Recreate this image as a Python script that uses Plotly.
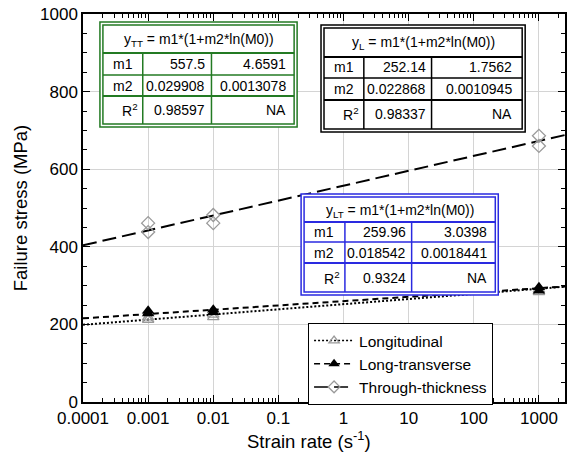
import numpy as np
import plotly.graph_objects as go

# Measured failure stress at three strain rates (two specimens per rate)
rate = [0.001, 0.001, 0.01, 0.01, 1000, 1000]
stress_L = [212, 218, 219, 225, 283, 290]
stress_LT = [228, 235, 231, 238, 287, 296]
stress_TT = [438, 461, 461, 482, 660, 686]

# Fit y = m1*(1+m2*ln(M0)) : [value, standard error]
fit_L = {"m1": [252.14, 1.7562], "m2": [0.022868, 0.0010945], "R2": [0.98337, "NA"]}
fit_LT = {"m1": [259.96, 3.0398], "m2": [0.018542, 0.0018441], "R2": [0.9324, "NA"]}
fit_TT = {"m1": [557.5, 4.6591], "m2": [0.029908, 0.0013078], "R2": [0.98597, "NA"]}

series_names = ["Longitudinal", "Long-transverse", "Through-thickness"]
x_tickvals = [1e-4, 1e-3, 1e-2, 1e-1, 1, 10, 100, 1000]
x_ticktext = ["0.0001", "0.001", "0.01", "0.1", "1", "10", "100", "1000"]

FONT = "Liberation Sans, Arial, sans-serif"
W, H = 568, 468
L_PX, R_PX, T_PX, B_PX = 83, 567, 14, 402
X_RANGE = [-4, 3.4]


def px(xp):
    return (xp - L_PX) / (R_PX - L_PX)


def py(yp):
    return (B_PX - yp) / (B_PX - T_PX)


def fit_curve(fit):
    xs = np.array([10 ** X_RANGE[0], 10 ** X_RANGE[1]])
    m1, m2 = fit["m1"][0], fit["m2"][0]
    return xs, m1 * (1 + m2 * np.log(xs))


fig = go.Figure()

line_styles = [
    dict(color="black", width=2, dash="2px,2px"),
    dict(color="black", width=2, dash="6px,4px"),
    dict(color="black", width=2, dash="14px,6px"),
]
markers = [
    dict(symbol="triangle-up-open", size=10, color="#9a9a9a", line=dict(width=1.3)),
    dict(symbol="triangle-up", size=11, color="black"),
    dict(symbol="diamond-open", size=10, color="#9a9a9a", line=dict(width=1.3)),
]
fits = [fit_L, fit_LT, fit_TT]
stresses = [stress_L, stress_LT, stress_TT]

# fit lines
for fit, ls in zip(fits, line_styles):
    xs, ys = fit_curve(fit)
    fig.add_trace(go.Scatter(x=xs, y=ys, mode="lines", line=ls,
                             showlegend=False, hoverinfo="skip"))
# measured points
for s, mk in zip(stresses, markers):
    fig.add_trace(go.Scatter(x=rate, y=s, mode="markers", marker=mk,
                             showlegend=False))
# legend entries (line + symbol)
for name, ls, mk in zip(series_names, line_styles, markers):
    lmk = dict(mk)
    lmk["size"] = mk["size"] - 1
    fig.add_trace(go.Scatter(x=[None], y=[None], mode="lines+markers",
                             line=dict(ls, width=1.5), marker=lmk, name=name))

shapes = []
annotations = []


def note(x, y, text, xanchor="center", size=14):
    annotations.append(dict(xref="paper", yref="paper", x=px(x), y=py(y),
                            xanchor=xanchor, yanchor="middle", showarrow=False,
                            text=text, font=dict(family=FONT, size=size, color="black")))


def draw_table(box, rows_y, cols_x, color, sub, fit, pads):
    x0, y0, x1, y1 = box
    shapes.append(dict(type="rect", xref="paper", yref="paper",
                       x0=px(x0), x1=px(x1), y0=py(y0), y1=py(y1),
                       line=dict(color=color, width=1.5), fillcolor="white", layer="above"))
    ix0, iy0, ix1, iy1 = x0 + 3, y0 + 3, x1 - 3, y1 - 3
    shapes.append(dict(type="rect", xref="paper", yref="paper",
                       x0=px(ix0), x1=px(ix1), y0=py(iy0), y1=py(iy1),
                       line=dict(color=color, width=1.5), layer="above"))
    for k, yy in enumerate(rows_y):
        shapes.append(dict(type="line", xref="paper", yref="paper",
                           x0=px(ix0), x1=px(ix1), y0=py(yy), y1=py(yy),
                           line=dict(color=color, width=2 if k != 1 else 1.3), layer="above"))
    for xx in cols_x:
        shapes.append(dict(type="line", xref="paper", yref="paper",
                           x0=px(xx), x1=px(xx), y0=py(rows_y[0]), y1=py(iy1),
                           line=dict(color=color, width=1.5), layer="above"))
    note((ix0 + ix1) / 2, (iy0 + rows_y[0]) / 2 + 1,
         f"y<sub>{sub}</sub> = m1*(1+m2*ln(M0))", size=14)
    centers = [(rows_y[0] + rows_y[1]) / 2, (rows_y[1] + rows_y[2]) / 2,
               (rows_y[2] + iy1) / 2]
    labels = ["m1", "m2", "R<sup>2</sup>"]
    for key, lab, cy in zip(["m1", "m2", "R2"], labels, centers):
        if key == "R2":
            note(cols_x[0] - 3, cy, lab, xanchor="right")
        else:
            note((ix0 + cols_x[0]) / 2, cy, lab)
        v, e = fit[key]
        note(cols_x[1] - pads[0], cy, str(v), xanchor="right")
        note(ix1 - pads[1], cy, str(e), xanchor="right")


draw_table((100, 22, 298, 127), [53, 75, 96], [143, 212], "#237a23", "TT", fit_TT, (4, 6))
draw_table((322, 25, 527, 132), [57, 78, 100], [365, 433], "black", "L", fit_L, (4, 8))
draw_table((302, 194, 500, 295), [222, 242, 263], [346, 413], "#2a2ae0", "LT", fit_LT, (4, 6))

# x-axis title
annotations.append(dict(xref="paper", yref="paper", x=px(310), y=py(440),
                        xanchor="center", yanchor="middle", showarrow=False,
                        text="Strain rate (s<sup>-1</sup>)",
                        font=dict(family=FONT, size=18.5, color="black")))

fig.update_layout(
    width=W, height=H,
    margin=dict(l=L_PX, r=W - R_PX, t=T_PX, b=H - B_PX),
    plot_bgcolor="white", paper_bgcolor="white",
    font=dict(family=FONT, color="black", size=17),
    shapes=shapes, annotations=annotations,
    legend=dict(x=px(309), y=py(323), xanchor="left", yanchor="top",
                bgcolor="white", bordercolor="black", borderwidth=1,
                font=dict(family=FONT, size=15.5), tracegroupgap=0,
                itemwidth=40),
    xaxis=dict(type="log", range=X_RANGE, tickvals=x_tickvals, ticktext=x_ticktext,
               showgrid=True, gridcolor="#d4d4d4", gridwidth=1,
               ticks="inside", ticklen=7, tickcolor="black", tickwidth=1,
               minor=dict(ticks="inside", ticklen=4, dtick="D1", tickcolor="black",
                          showgrid=False),
               showline=True, linecolor="black", linewidth=1.5, mirror="allticks",
               zeroline=False, tickfont=dict(size=17)),
    yaxis=dict(range=[0, 1000], dtick=200,
               showgrid=True, gridcolor="#d4d4d4", gridwidth=1,
               ticks="inside", ticklen=7, tickcolor="black", tickwidth=1,
               minor=dict(ticks="inside", ticklen=4, dtick=50, tickcolor="black",
                          showgrid=False),
               showline=True, linecolor="black", linewidth=1.5, mirror="allticks",
               zeroline=False, tickfont=dict(size=17),
               title=dict(text="Failure stress (MPa)", font=dict(size=18.5), standoff=8)),
)

fig.write_html("out.html")
